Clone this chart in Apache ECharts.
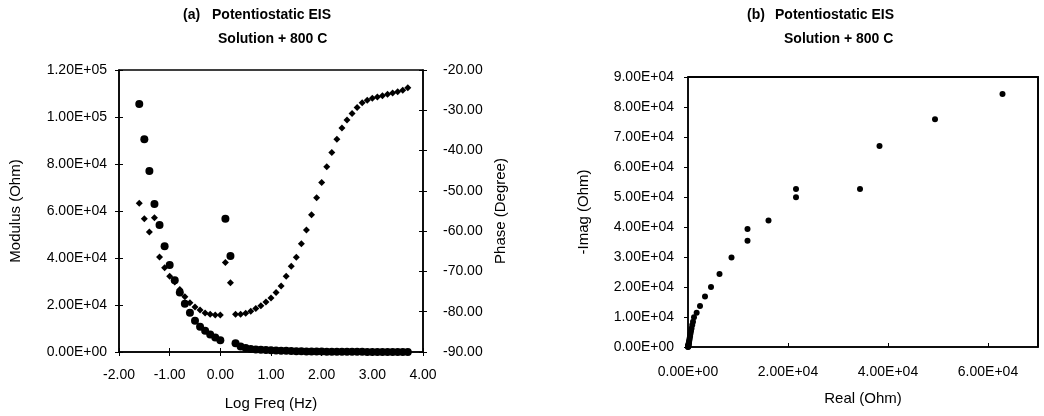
<!DOCTYPE html>
<html>
<head>
<meta charset="utf-8">
<title>Potentiostatic EIS</title>
<script src="https://cdn.jsdelivr.net/npm/echarts@6/dist/echarts.min.js"></script>
<style>
  html, body { margin: 0; padding: 0; background: #fff; }
  #chart { width: 1044px; height: 416px; }
</style>
</head>
<body>
<div id="chart"></div>
<script>
// (a) Bode data: log frequency, modulus (Ohm), phase (degree)
const logFreq = [
  -1.6, -1.5, -1.4, -1.3, -1.2, -1.1, -1.0, -0.9, -0.8, -0.7, -0.6, -0.5, -0.4, -0.3, -0.2, -0.1, 0.0,
  0.1, 0.2,
  0.3, 0.4, 0.5, 0.6, 0.7, 0.8, 0.9, 1.0, 1.1, 1.2, 1.3, 1.4, 1.5, 1.6, 1.7, 1.8, 1.9, 2.0,
  2.1, 2.2, 2.3, 2.4, 2.5, 2.6, 2.7, 2.8, 2.9, 3.0, 3.1, 3.2, 3.3, 3.4, 3.5, 3.6, 3.7
]
const modulus = [
  105500, 90500, 77000, 63000, 54000, 45000, 37000, 30500, 25300, 20500, 16700, 13300, 10700, 9000, 7500, 6200, 5000,
  56700, 40800,
  3700, 2300, 1700, 1300, 1100, 950, 850, 750, 650, 550, 480, 420, 360, 300, 260, 220, 190, 160,
  140, 120, 100, 90, 80, 70, 60, 55, 50, 45, 40, 38, 35, 33, 31, 30, 29
]
const phase = [
  -53.1, -56.9, -60.2, -56.7, -66.4, -69.1, -71.2, -72.6, -74.5, -76.3, -77.8, -78.8, -79.6, -80.3, -80.6, -80.8, -80.8,
  -67.8, -72.8,
  -80.6, -80.6, -80.4, -79.9, -79.2, -78.5, -77.6, -76.6, -75.2, -73.6, -71.2, -68.7, -66.5, -63.1, -59.7, -55.9, -51.7, -47.9,
  -44.0, -40.5, -37.2, -34.4, -32.4, -30.8, -29.3, -28.1, -27.5, -27.0, -26.7, -26.4, -26.0, -25.7, -25.4, -25.0, -24.4
]

// (b) Nyquist data: real and -imag (Ohm)
const realZ = [
  62900, 49400, 38300, 34400, 21600, 21600, 16100, 11900, 11900, 8700, 6300, 4600, 3400, 2400, 1730, 1200,
  1000, 850, 700, 600, 500, 420, 350, 290, 240, 200, 160, 130, 100, 80, 60, 45, 30, 20, 12, 6
]
const imagZ = [
  84300, 75900, 67000, 52700, 52700, 49900, 42200, 39300, 35400, 29800, 24300, 20000, 16800, 13700, 11400, 9900,
  8400, 7300, 6200, 5300, 4500, 3700, 3100, 2500, 2000, 1600, 1300, 1000, 800, 600, 450, 330, 230, 150, 80, 40
]

const FONT = 'Liberation Sans, Arial, sans-serif'

function sci(v) {
  // 20000 -> 2.00E+04
  let parts = Number(v).toExponential(2).split('e')
  let exp = parseInt(parts[1], 10)
  let sign = exp < 0 ? '-' : '+'
  let digits = String(Math.abs(exp)).padStart(2, '0')
  return parts[0] + 'E' + sign + digits
}

function zip(a, b) {
  return a.map((v, i) => [v, b[i]])
}

const labelStyle = { color: '#000', fontSize: 14, fontFamily: FONT }
const nameStyle = { color: '#000', fontSize: 15, fontFamily: FONT }

function axisLine() {
  return { show: true, onZero: false, lineStyle: { color: '#000', width: 1.5 } }
}

// axis that only draws the inner half of the "+" ticks
function innerTicks(extra) {
  return Object.assign({
    type: 'value',
    axisLine: { show: false, onZero: false },
    axisTick: { show: true, inside: true, length: 4, lineStyle: { color: '#000' } },
    axisLabel: { show: false },
    splitLine: { show: false }
  }, extra)
}

// plain line axis used as the top / right edge of a plot
function frame(extra) {
  return Object.assign({
    type: 'value',
    axisLine: axisLine(),
    axisTick: { show: false },
    axisLabel: { show: false },
    splitLine: { show: false }
  }, extra)
}

function heading(text, left, top) {
  return {
    text: text, left: left, top: top, padding: 0,
    textStyle: { color: '#000', fontSize: 14, fontWeight: 'bold', fontFamily: FONT }
  }
}

let chart = echarts.init(document.getElementById('chart'))
let option = {
  animation: false,
  title: [
    heading('(a)', 183, 8),
    heading('Potentiostatic EIS', 212, 8),
    heading('Solution + 800 C', 218, 32),
    heading('(b)', 747, 8),
    heading('Potentiostatic EIS', 775, 8),
    heading('Solution + 800 C', 784, 32)
  ],
  grid: [
    { left: 119, top: 70, width: 304, height: 282, show: true, borderColor: '#000', borderWidth: 1.5 },
    { left: 688, top: 77, width: 350, height: 270, show: true, borderColor: '#000', borderWidth: 1.5, z: 3 }
  ],
  xAxis: [
    {
      gridIndex: 0, type: 'value', position: 'bottom', min: -2, max: 4, interval: 1,
      name: 'Log Freq (Hz)', nameLocation: 'middle', nameGap: 44, nameTextStyle: nameStyle,
      axisLine: axisLine(),
      axisTick: { show: true, length: 4, lineStyle: { color: '#000' } },
      axisLabel: Object.assign({ margin: 16, formatter: v => v.toFixed(2) }, labelStyle),
      splitLine: { show: false }
    },
    innerTicks({ gridIndex: 0, position: 'bottom', min: -2, max: 4, interval: 1 }),
    {
      gridIndex: 1, type: 'value', position: 'bottom', min: 0, max: 70000, interval: 20000,
      name: 'Real (Ohm)', nameLocation: 'middle', nameGap: 44, nameTextStyle: nameStyle,
      axisLine: axisLine(),
      axisTick: { show: true, inside: true, length: 4, lineStyle: { color: '#000' } },
      axisLabel: Object.assign({ margin: 18, formatter: v => (v % 20000 === 0 ? sci(v) : '') }, labelStyle),
      splitLine: { show: false }
    },
    frame({ gridIndex: 1, position: 'top', min: 0, max: 70000 })
  ],
  yAxis: [
    {
      gridIndex: 0, type: 'value', position: 'left', min: 0, max: 120000, interval: 20000,
      name: 'Modulus (Ohm)', nameLocation: 'middle', nameGap: 96, nameTextStyle: nameStyle,
      axisLine: axisLine(),
      axisTick: { show: true, length: 4, lineStyle: { color: '#000' } },
      axisLabel: Object.assign({ margin: 12, formatter: sci }, labelStyle),
      splitLine: { show: false }
    },
    {
      gridIndex: 0, type: 'value', position: 'right', min: -90, max: -20, interval: 10,
      name: 'Phase (Degree)', nameLocation: 'middle', nameGap: 70, nameRotate: 90, nameTextStyle: nameStyle,
      axisLine: axisLine(),
      axisTick: { show: true, length: 4, lineStyle: { color: '#000' } },
      axisLabel: Object.assign({ margin: 20, formatter: v => v.toFixed(2) }, labelStyle),
      splitLine: { show: false }
    },
    innerTicks({ gridIndex: 0, position: 'left', min: 0, max: 120000, interval: 20000 }),
    innerTicks({ gridIndex: 0, position: 'right', min: -90, max: -20, interval: 10 }),
    {
      gridIndex: 1, type: 'value', position: 'left', min: 0, max: 90000, interval: 10000,
      name: '-Imag (Ohm)', nameLocation: 'middle', nameGap: 97, nameTextStyle: nameStyle,
      axisLine: axisLine(),
      axisTick: { show: true, length: 4, lineStyle: { color: '#000' } },
      axisLabel: Object.assign({ margin: 14, formatter: sci }, labelStyle),
      splitLine: { show: false }
    },
    frame({ gridIndex: 1, position: 'right', min: 0, max: 90000 })
  ],
  series: [
    {
      name: 'Modulus', type: 'scatter', xAxisIndex: 0, yAxisIndex: 0,
      symbol: 'circle', symbolSize: 8, itemStyle: { color: '#000', opacity: 1 },
      data: zip(logFreq, modulus)
    },
    {
      name: 'Phase', type: 'scatter', xAxisIndex: 0, yAxisIndex: 1,
      symbol: 'diamond', symbolSize: 7, itemStyle: { color: '#000', opacity: 1 },
      data: zip(logFreq, phase)
    },
    {
      name: 'Nyquist', type: 'scatter', xAxisIndex: 2, yAxisIndex: 4,
      symbol: 'circle', symbolSize: 6, itemStyle: { color: '#000', opacity: 1 },
      data: zip(realZ, imagZ)
    }
  ]
}
chart.setOption(option)

// top and right edge of plot (b), placed through the plot's own scales
let origin = chart.convertToPixel({ gridIndex: 1 }, [0, 0])
let corner = chart.convertToPixel({ gridIndex: 1 }, [70000, 90000])
if (origin && corner) {
  chart.setOption({
    graphic: [{
      type: 'polyline', z: 10, silent: true,
      shape: { points: [[origin[0], corner[1]], corner, [corner[0], origin[1]]] },
      style: { stroke: '#000', lineWidth: 1.5, fill: null }
    }]
  })
}
</script>
</body>
</html>
